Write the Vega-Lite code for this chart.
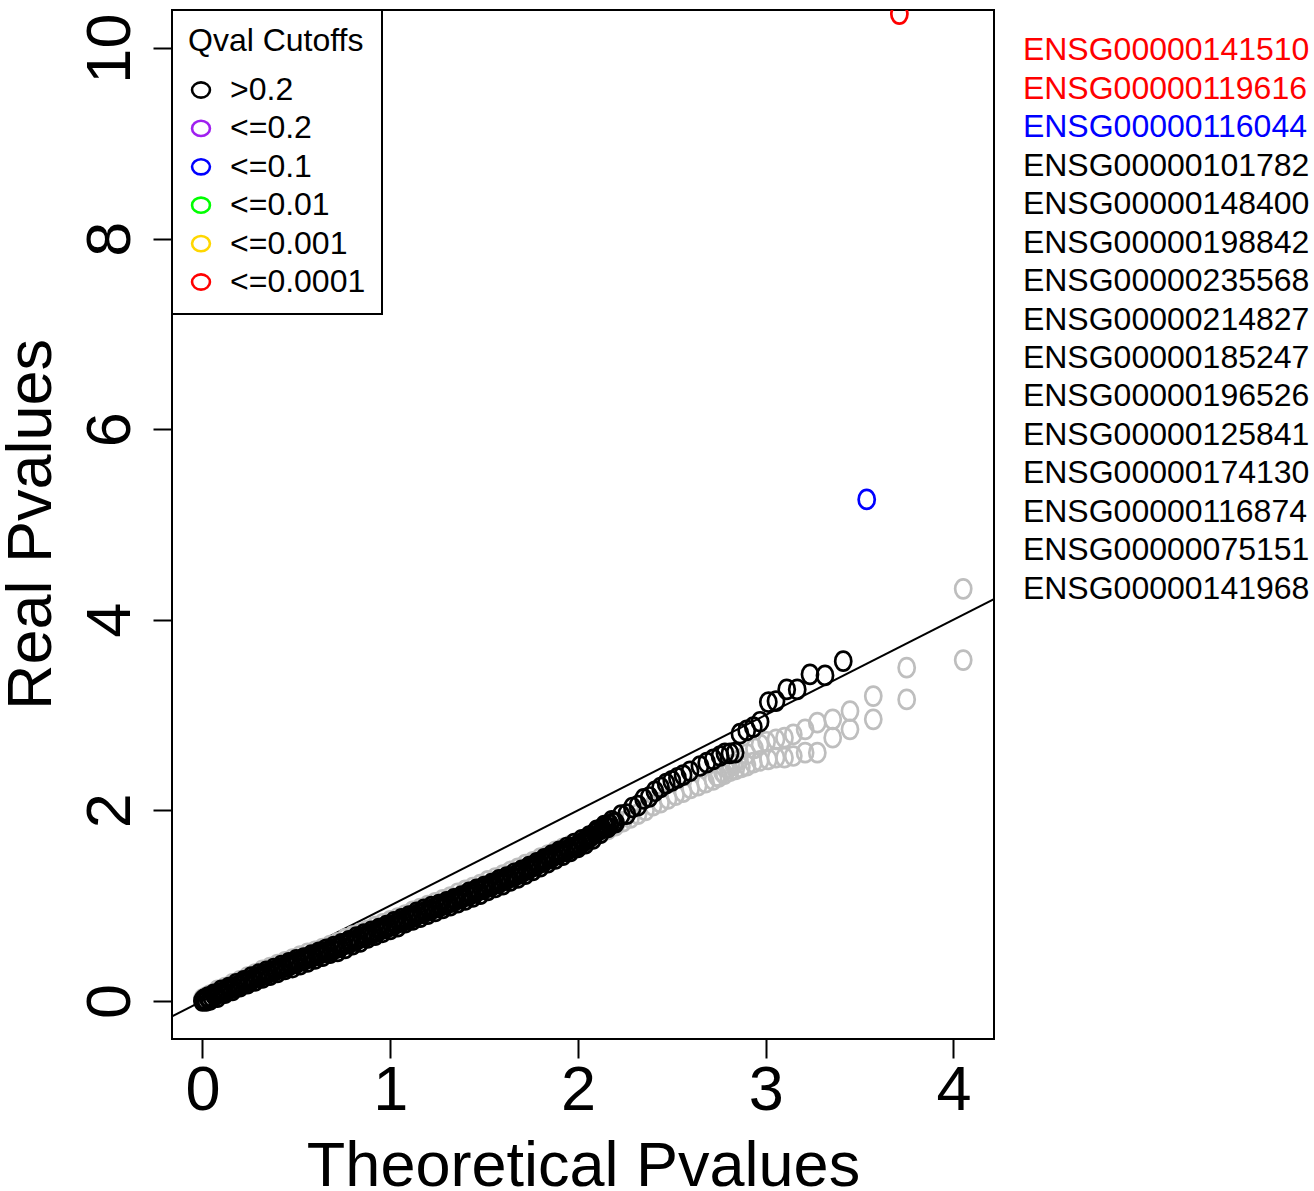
{
  "$schema": "https://vega.github.io/schema/vega-lite/v6.json",
  "width": 822,
  "height": 1029,
  "autosize": {"type": "none"},
  "padding": {"left": 172, "top": 10, "right": 320, "bottom": 152},
  "background": "white",
  "config": {
    "font": "Liberation Sans",
    "view": {"stroke": "black", "strokeWidth": 2},
    "legend": {
      "orient": "top-left", "offset": 0, "padding": 16,
      "strokeColor": "black", "strokeWidth": 2, "fillColor": "white", "cornerRadius": 0,
      "titleFontSize": 32, "titleFontWeight": "normal", "titleColor": "black", "titleLimit": 400, "titlePadding": 16,
      "labelFontSize": 32, "labelColor": "black", "labelLimit": 400, "rowPadding": 6.4,
      "symbolType": "M 0 -0.85 C 0.5523 -0.85 1 -0.4694 1 0 C 1 0.4694 0.5523 0.85 0 0.85 C -0.5523 0.85 -1 0.4694 -1 0 C -1 -0.4694 -0.5523 -0.85 0 -0.85 Z",
      "symbolSize": 320, "symbolStrokeWidth": 2.6, "symbolFillColor": "transparent", "symbolOffset": -3, "labelOffset": 13
    }
  },
  "datasets": {
    "diag": [{"x": -1, "y": -1}, {"x": 5, "y": 5}],
    "nullq": [
      {"x":0,"y":0.02},{"x":0.02,"y":0.04},{"x":0.04,"y":0.06},{"x":0.08,"y":0.11},{"x":0.12,"y":0.14},{"x":0.16,"y":0.18},{"x":0.2,"y":0.21},{"x":0.24,"y":0.25},{"x":0.28,"y":0.28},{"x":0.32,"y":0.32},{"x":0.36,"y":0.35},{"x":0.4,"y":0.38},{"x":0.44,"y":0.41},{"x":0.48,"y":0.44},{"x":0.52,"y":0.47},{"x":0.56,"y":0.5},{"x":0.6,"y":0.52},{"x":0.64,"y":0.55},{"x":0.68,"y":0.58},{"x":0.72,"y":0.61},{"x":0.76,"y":0.65},{"x":0.8,"y":0.68},{"x":0.84,"y":0.71},{"x":0.88,"y":0.74},{"x":0.92,"y":0.78},{"x":0.96,"y":0.81},{"x":1,"y":0.84},{"x":1.04,"y":0.87},{"x":1.08,"y":0.9},{"x":1.12,"y":0.94},{"x":1.16,"y":0.97},{"x":1.2,"y":1},{"x":1.24,"y":1.03},{"x":1.28,"y":1.06},{"x":1.32,"y":1.09},{"x":1.36,"y":1.13},{"x":1.4,"y":1.16},{"x":1.44,"y":1.19},{"x":1.48,"y":1.22},{"x":1.52,"y":1.26},{"x":1.56,"y":1.29},{"x":1.6,"y":1.32},{"x":1.64,"y":1.36},{"x":1.68,"y":1.39},{"x":1.72,"y":1.43},{"x":1.76,"y":1.46},{"x":1.8,"y":1.5},{"x":1.84,"y":1.53},{"x":1.88,"y":1.57},{"x":1.92,"y":1.6},{"x":1.96,"y":1.63},{"x":2,"y":1.66},{"x":2.04,"y":1.69},{"x":2.08,"y":1.73},{"x":2.12,"y":1.76},{"x":2.16,"y":1.8},{"x":2.2,"y":1.84},{"x":2.24,"y":1.88},{"x":2.28,"y":1.92},{"x":2.32,"y":1.96},{"x":2.36,"y":2},{"x":2.4,"y":2.05},{"x":2.44,"y":2.08},{"x":2.48,"y":2.12},{"x":2.52,"y":2.16},{"x":2.56,"y":2.19},{"x":2.6,"y":2.23},{"x":2.64,"y":2.26},{"x":2.68,"y":2.29},{"x":2.72,"y":2.32},
      {"x":2.75,"y":2.35},{"x":2.78,"y":2.38},{"x":2.81,"y":2.41},{"x":2.84,"y":2.43},{"x":2.87,"y":2.45},{"x":2.9,"y":2.47},{"x":2.934,"y":2.5},{"x":2.97,"y":2.52},{"x":3.014,"y":2.535},{"x":3.055,"y":2.553},{"x":3.1,"y":2.553},{"x":3.147,"y":2.57},{"x":3.21,"y":2.605},{"x":3.275,"y":2.605},{"x":3.357,"y":2.763},{"x":3.449,"y":2.85},{"x":3.573,"y":2.955},{"x":3.751,"y":3.164},{"x":4.052,"y":3.577},
      {"x":2.74,"y":2.36},{"x":2.77,"y":2.4},{"x":2.8,"y":2.44},{"x":2.83,"y":2.48},{"x":2.86,"y":2.53},{"x":2.9,"y":2.59},{"x":2.94,"y":2.65},{"x":2.97,"y":2.69},{"x":3.005,"y":2.72},{"x":3.055,"y":2.745},{"x":3.1,"y":2.763},{"x":3.147,"y":2.797},{"x":3.21,"y":2.85},{"x":3.275,"y":2.92},{"x":3.357,"y":2.955},{"x":3.449,"y":3.042},{"x":3.573,"y":3.199},{"x":3.751,"y":3.497},{"x":4.052,"y":4.325}
    ],
    "obs": [
      {"x":0,"y":0,"q":">0.2"},{"x":0.01,"y":0.02,"q":">0.2"},{"x":0.02,"y":0,"q":">0.2"},{"x":0.03,"y":0.04,"q":">0.2"},{"x":0.04,"y":0.01,"q":">0.2"},{"x":0.06,"y":0.07,"q":">0.2"},{"x":0.08,"y":0.04,"q":">0.2"},{"x":0.1,"y":0.11,"q":">0.2"},{"x":0.12,"y":0.08,"q":">0.2"},{"x":0.14,"y":0.14,"q":">0.2"},{"x":0.16,"y":0.11,"q":">0.2"},{"x":0.18,"y":0.18,"q":">0.2"},{"x":0.2,"y":0.15,"q":">0.2"},{"x":0.22,"y":0.21,"q":">0.2"},{"x":0.24,"y":0.18,"q":">0.2"},{"x":0.26,"y":0.25,"q":">0.2"},{"x":0.28,"y":0.21,"q":">0.2"},{"x":0.3,"y":0.28,"q":">0.2"},{"x":0.32,"y":0.24,"q":">0.2"},{"x":0.34,"y":0.31,"q":">0.2"},{"x":0.36,"y":0.27,"q":">0.2"},{"x":0.38,"y":0.34,"q":">0.2"},{"x":0.4,"y":0.3,"q":">0.2"},{"x":0.42,"y":0.37,"q":">0.2"},{"x":0.44,"y":0.33,"q":">0.2"},{"x":0.46,"y":0.4,"q":">0.2"},{"x":0.48,"y":0.35,"q":">0.2"},{"x":0.5,"y":0.43,"q":">0.2"},{"x":0.52,"y":0.38,"q":">0.2"},{"x":0.54,"y":0.45,"q":">0.2"},{"x":0.56,"y":0.41,"q":">0.2"},{"x":0.58,"y":0.48,"q":">0.2"},{"x":0.6,"y":0.44,"q":">0.2"},{"x":0.62,"y":0.51,"q":">0.2"},{"x":0.64,"y":0.47,"q":">0.2"},{"x":0.66,"y":0.54,"q":">0.2"},{"x":0.68,"y":0.5,"q":">0.2"},{"x":0.7,"y":0.57,"q":">0.2"},{"x":0.72,"y":0.52,"q":">0.2"},{"x":0.74,"y":0.6,"q":">0.2"},{"x":0.76,"y":0.55,"q":">0.2"},{"x":0.78,"y":0.63,"q":">0.2"},{"x":0.8,"y":0.59,"q":">0.2"},{"x":0.82,"y":0.67,"q":">0.2"},{"x":0.84,"y":0.62,"q":">0.2"},{"x":0.86,"y":0.7,"q":">0.2"},{"x":0.88,"y":0.66,"q":">0.2"},{"x":0.9,"y":0.73,"q":">0.2"},{"x":0.92,"y":0.69,"q":">0.2"},{"x":0.94,"y":0.76,"q":">0.2"},{"x":0.96,"y":0.72,"q":">0.2"},{"x":0.98,"y":0.79,"q":">0.2"},{"x":1,"y":0.75,"q":">0.2"},{"x":1.02,"y":0.83,"q":">0.2"},{"x":1.04,"y":0.78,"q":">0.2"},{"x":1.06,"y":0.86,"q":">0.2"},{"x":1.08,"y":0.82,"q":">0.2"},{"x":1.1,"y":0.89,"q":">0.2"},{"x":1.12,"y":0.85,"q":">0.2"},{"x":1.14,"y":0.93,"q":">0.2"},{"x":1.16,"y":0.88,"q":">0.2"},{"x":1.18,"y":0.96,"q":">0.2"},{"x":1.2,"y":0.91,"q":">0.2"},{"x":1.22,"y":0.99,"q":">0.2"},{"x":1.24,"y":0.94,"q":">0.2"},{"x":1.26,"y":1.01,"q":">0.2"},{"x":1.28,"y":0.97,"q":">0.2"},{"x":1.3,"y":1.04,"q":">0.2"},{"x":1.32,"y":1,"q":">0.2"},{"x":1.34,"y":1.07,"q":">0.2"},{"x":1.36,"y":1.03,"q":">0.2"},{"x":1.38,"y":1.1,"q":">0.2"},{"x":1.4,"y":1.06,"q":">0.2"},{"x":1.42,"y":1.14,"q":">0.2"},{"x":1.44,"y":1.09,"q":">0.2"},{"x":1.46,"y":1.17,"q":">0.2"},{"x":1.48,"y":1.12,"q":">0.2"},{"x":1.5,"y":1.2,"q":">0.2"},{"x":1.52,"y":1.16,"q":">0.2"},{"x":1.54,"y":1.23,"q":">0.2"},{"x":1.56,"y":1.19,"q":">0.2"},{"x":1.58,"y":1.27,"q":">0.2"},{"x":1.6,"y":1.22,"q":">0.2"},{"x":1.62,"y":1.3,"q":">0.2"},{"x":1.64,"y":1.26,"q":">0.2"},{"x":1.66,"y":1.34,"q":">0.2"},{"x":1.68,"y":1.29,"q":">0.2"},{"x":1.7,"y":1.37,"q":">0.2"},{"x":1.72,"y":1.33,"q":">0.2"},{"x":1.74,"y":1.41,"q":">0.2"},{"x":1.76,"y":1.37,"q":">0.2"},{"x":1.78,"y":1.45,"q":">0.2"},{"x":1.8,"y":1.41,"q":">0.2"},{"x":1.82,"y":1.49,"q":">0.2"},{"x":1.84,"y":1.45,"q":">0.2"},{"x":1.86,"y":1.53,"q":">0.2"},{"x":1.88,"y":1.49,"q":">0.2"},{"x":1.9,"y":1.57,"q":">0.2"},{"x":1.92,"y":1.53,"q":">0.2"},{"x":1.94,"y":1.61,"q":">0.2"},{"x":1.96,"y":1.57,"q":">0.2"},{"x":1.98,"y":1.65,"q":">0.2"},{"x":2,"y":1.61,"q":">0.2"},{"x":2.02,"y":1.69,"q":">0.2"},{"x":2.04,"y":1.65,"q":">0.2"},{"x":2.06,"y":1.73,"q":">0.2"},{"x":2.08,"y":1.7,"q":">0.2"},{"x":2.1,"y":1.79,"q":">0.2"},{"x":2.12,"y":1.76,"q":">0.2"},{"x":2.14,"y":1.84,"q":">0.2"},{"x":2.16,"y":1.82,"q":">0.2"},{"x":2.18,"y":1.89,"q":">0.2"},{"x":2.2,"y":1.87,"q":">0.2"},{"x":2.23,"y":1.95,"q":">0.2"},{"x":2.26,"y":1.96,"q":">0.2"},{"x":2.29,"y":2.03,"q":">0.2"},{"x":2.32,"y":2.05,"q":">0.2"},{"x":2.35,"y":2.12,"q":">0.2"},{"x":2.38,"y":2.14,"q":">0.2"},{"x":2.41,"y":2.2,"q":">0.2"},{"x":2.44,"y":2.24,"q":">0.2"},{"x":2.47,"y":2.28,"q":">0.2"},{"x":2.5,"y":2.31,"q":">0.2"},{"x":2.53,"y":2.34,"q":">0.2"},{"x":2.56,"y":2.37,"q":">0.2"},{"x":2.597,"y":2.41,"q":">0.2"},
      {"x":0.01,"y":0.01,"q":">0.2"},{"x":0.03,"y":0.03,"q":">0.2"},{"x":0.05,"y":0.04,"q":">0.2"},{"x":0.07,"y":0.06,"q":">0.2"},{"x":0.09,"y":0.08,"q":">0.2"},{"x":0.11,"y":0.09,"q":">0.2"},{"x":0.13,"y":0.11,"q":">0.2"},{"x":0.15,"y":0.13,"q":">0.2"},{"x":0.17,"y":0.14,"q":">0.2"},{"x":0.19,"y":0.16,"q":">0.2"},{"x":0.21,"y":0.18,"q":">0.2"},{"x":0.23,"y":0.2,"q":">0.2"},{"x":0.25,"y":0.21,"q":">0.2"},{"x":0.27,"y":0.23,"q":">0.2"},{"x":0.29,"y":0.25,"q":">0.2"},{"x":0.31,"y":0.26,"q":">0.2"},{"x":0.33,"y":0.28,"q":">0.2"},{"x":0.35,"y":0.29,"q":">0.2"},{"x":0.37,"y":0.31,"q":">0.2"},{"x":0.39,"y":0.32,"q":">0.2"},{"x":0.41,"y":0.34,"q":">0.2"},{"x":0.43,"y":0.35,"q":">0.2"},{"x":0.45,"y":0.37,"q":">0.2"},{"x":0.47,"y":0.38,"q":">0.2"},{"x":0.49,"y":0.4,"q":">0.2"},{"x":0.51,"y":0.41,"q":">0.2"},{"x":0.53,"y":0.43,"q":">0.2"},{"x":0.55,"y":0.44,"q":">0.2"},{"x":0.57,"y":0.45,"q":">0.2"},{"x":0.59,"y":0.47,"q":">0.2"},{"x":0.61,"y":0.48,"q":">0.2"},{"x":0.63,"y":0.5,"q":">0.2"},{"x":0.65,"y":0.51,"q":">0.2"},{"x":0.67,"y":0.52,"q":">0.2"},{"x":0.69,"y":0.54,"q":">0.2"},{"x":0.71,"y":0.55,"q":">0.2"},{"x":0.73,"y":0.57,"q":">0.2"},{"x":0.75,"y":0.59,"q":">0.2"},{"x":0.77,"y":0.6,"q":">0.2"},{"x":0.79,"y":0.62,"q":">0.2"},{"x":0.81,"y":0.63,"q":">0.2"},{"x":0.83,"y":0.65,"q":">0.2"},{"x":0.85,"y":0.67,"q":">0.2"},{"x":0.87,"y":0.68,"q":">0.2"},{"x":0.89,"y":0.7,"q":">0.2"},{"x":0.91,"y":0.71,"q":">0.2"},{"x":0.93,"y":0.73,"q":">0.2"},{"x":0.95,"y":0.75,"q":">0.2"},{"x":0.97,"y":0.76,"q":">0.2"},{"x":0.99,"y":0.78,"q":">0.2"},{"x":1.01,"y":0.79,"q":">0.2"},{"x":1.03,"y":0.81,"q":">0.2"},{"x":1.05,"y":0.83,"q":">0.2"},{"x":1.07,"y":0.84,"q":">0.2"},{"x":1.09,"y":0.86,"q":">0.2"},{"x":1.11,"y":0.87,"q":">0.2"},{"x":1.13,"y":0.89,"q":">0.2"},{"x":1.15,"y":0.91,"q":">0.2"},{"x":1.17,"y":0.92,"q":">0.2"},{"x":1.19,"y":0.94,"q":">0.2"},{"x":1.21,"y":0.95,"q":">0.2"},{"x":1.23,"y":0.97,"q":">0.2"},{"x":1.25,"y":0.98,"q":">0.2"},{"x":1.27,"y":1,"q":">0.2"},{"x":1.29,"y":1.01,"q":">0.2"},{"x":1.31,"y":1.03,"q":">0.2"},{"x":1.33,"y":1.04,"q":">0.2"},{"x":1.35,"y":1.06,"q":">0.2"},{"x":1.37,"y":1.08,"q":">0.2"},{"x":1.39,"y":1.09,"q":">0.2"},{"x":1.41,"y":1.11,"q":">0.2"},{"x":1.43,"y":1.12,"q":">0.2"},{"x":1.45,"y":1.14,"q":">0.2"},{"x":1.47,"y":1.16,"q":">0.2"},{"x":1.49,"y":1.17,"q":">0.2"},{"x":1.51,"y":1.19,"q":">0.2"},{"x":1.53,"y":1.2,"q":">0.2"},{"x":1.55,"y":1.22,"q":">0.2"},{"x":1.57,"y":1.24,"q":">0.2"},{"x":1.59,"y":1.25,"q":">0.2"},{"x":1.61,"y":1.27,"q":">0.2"},{"x":1.63,"y":1.29,"q":">0.2"},{"x":1.65,"y":1.3,"q":">0.2"},{"x":1.67,"y":1.32,"q":">0.2"},{"x":1.69,"y":1.34,"q":">0.2"},{"x":1.71,"y":1.36,"q":">0.2"},{"x":1.73,"y":1.38,"q":">0.2"},{"x":1.75,"y":1.4,"q":">0.2"},{"x":1.77,"y":1.42,"q":">0.2"},{"x":1.79,"y":1.44,"q":">0.2"},{"x":1.81,"y":1.46,"q":">0.2"},{"x":1.83,"y":1.48,"q":">0.2"},{"x":1.85,"y":1.5,"q":">0.2"},{"x":1.87,"y":1.52,"q":">0.2"},{"x":1.89,"y":1.54,"q":">0.2"},{"x":1.91,"y":1.56,"q":">0.2"},{"x":1.93,"y":1.57,"q":">0.2"},{"x":1.95,"y":1.59,"q":">0.2"},{"x":1.97,"y":1.61,"q":">0.2"},{"x":1.99,"y":1.62,"q":">0.2"},{"x":2.01,"y":1.64,"q":">0.2"},{"x":2.03,"y":1.67,"q":">0.2"},{"x":2.05,"y":1.7,"q":">0.2"},{"x":2.07,"y":1.73,"q":">0.2"},{"x":2.09,"y":1.76,"q":">0.2"},{"x":2.11,"y":1.79,"q":">0.2"},{"x":2.13,"y":1.81,"q":">0.2"},{"x":2.15,"y":1.83,"q":">0.2"},{"x":2.17,"y":1.85,"q":">0.2"},{"x":2.19,"y":1.87,"q":">0.2"},
      {"x":2.65,"y":2.465,"q":">0.2"},{"x":2.686,"y":2.5,"q":">0.2"},{"x":2.721,"y":2.535,"q":">0.2"},{"x":2.757,"y":2.57,"q":">0.2"},{"x":2.783,"y":2.598,"q":">0.2"},{"x":2.81,"y":2.598,"q":">0.2"},{"x":2.837,"y":2.605,"q":">0.2"},{"x":2.863,"y":2.805,"q":">0.2"},{"x":2.899,"y":2.839,"q":">0.2"},{"x":2.934,"y":2.874,"q":">0.2"},{"x":2.97,"y":2.93,"q":">0.2"},{"x":3.014,"y":3.136,"q":">0.2"},{"x":3.055,"y":3.147,"q":">0.2"},{"x":3.112,"y":3.269,"q":">0.2"},{"x":3.168,"y":3.269,"q":">0.2"},{"x":3.236,"y":3.427,"q":">0.2"},{"x":3.316,"y":3.416,"q":">0.2"},{"x":3.413,"y":3.566,"q":">0.2"},
      {"x":3.538,"y":5.263,"q":"<=0.1"},{"x":3.712,"y":10.357,"q":"<=0.0001"}
    ],
    "genes": [
      {"rank":1,"gene":"ENSG00000141510","q":"<=0.0001"},
      {"rank":2,"gene":"ENSG00000119616","q":"<=0.0001"},
      {"rank":3,"gene":"ENSG00000116044","q":"<=0.1"},
      {"rank":4,"gene":"ENSG00000101782","q":">0.2"},
      {"rank":5,"gene":"ENSG00000148400","q":">0.2"},
      {"rank":6,"gene":"ENSG00000198842","q":">0.2"},
      {"rank":7,"gene":"ENSG00000235568","q":">0.2"},
      {"rank":8,"gene":"ENSG00000214827","q":">0.2"},
      {"rank":9,"gene":"ENSG00000185247","q":">0.2"},
      {"rank":10,"gene":"ENSG00000196526","q":">0.2"},
      {"rank":11,"gene":"ENSG00000125841","q":">0.2"},
      {"rank":12,"gene":"ENSG00000174130","q":">0.2"},
      {"rank":13,"gene":"ENSG00000116874","q":">0.2"},
      {"rank":14,"gene":"ENSG00000075151","q":">0.2"},
      {"rank":15,"gene":"ENSG00000141968","q":">0.2"}
    ]
  },
  "layer": [
    {
      "layer": [
        {
          "data": {"name": "diag"},
          "mark": {"type": "line", "color": "black", "strokeWidth": 2, "clip": true},
          "encoding": {
            "x": {"field": "x", "type": "quantitative", "scale": {"domain": [-0.162, 4.216], "nice": false, "zero": false},
              "axis": {"title": "Theoretical Pvalues", "values": [0, 1, 2, 3, 4], "format": "d", "grid": false, "domain": false,
                "ticks": true, "tickSize": 19, "tickWidth": 2, "tickColor": "black",
                "labelFontSize": 63, "labelColor": "black", "labelPadding": 51, "labelBaseline": "alphabetic", "labelAlign": "center",
                "labelFlush": false, "labelOverlap": false,
                "titleFontSize": 63, "titleFontWeight": "normal", "titleColor": "black", "titleBaseline": "alphabetic", "titleAlign": "center",
                "titleX": 411, "titleY": 146}},
            "y": {"field": "y", "type": "quantitative", "scale": {"domain": [-0.4, 10.4], "nice": false, "zero": false},
              "axis": {"title": "Real Pvalues", "values": [0, 2, 4, 6, 8, 10], "format": "d", "grid": false, "domain": false,
                "ticks": true, "tickSize": 19, "tickWidth": 2, "tickColor": "black",
                "labelFontSize": 63, "labelColor": "black", "labelAngle": 270, "labelAlign": "center", "labelBaseline": "alphabetic", "labelPadding": 24,
                "labelFlush": false, "labelOverlap": false,
                "titleFontSize": 63, "titleFontWeight": "normal", "titleColor": "black", "titleAngle": 270, "titleBaseline": "alphabetic", "titleAlign": "center",
                "titleX": -122, "titleY": 514}}
          }
        },
        {
          "data": {"name": "nullq"},
          "mark": {"type": "point", "shape": "M 0 -1 C 0.4694 -1 0.85 -0.5523 0.85 0 C 0.85 0.5523 0.4694 1 0 1 C -0.4694 1 -0.85 0.5523 -0.85 0 C -0.85 -0.5523 -0.4694 -1 0 -1 Z", "filled": false, "size": 360, "strokeWidth": 2.7, "color": "#BEBEBE", "opacity": 1, "clip": true},
          "encoding": {
            "x": {"field": "x", "type": "quantitative"},
            "y": {"field": "y", "type": "quantitative"}
          }
        },
        {
          "data": {"name": "obs"},
          "mark": {"type": "point", "shape": "M 0 -1 C 0.4694 -1 0.85 -0.5523 0.85 0 C 0.85 0.5523 0.4694 1 0 1 C -0.4694 1 -0.85 0.5523 -0.85 0 C -0.85 -0.5523 -0.4694 -1 0 -1 Z", "filled": false, "size": 360, "strokeWidth": 2.7, "opacity": 1, "clip": true},
          "encoding": {
            "x": {"field": "x", "type": "quantitative"},
            "y": {"field": "y", "type": "quantitative"},
            "color": {"field": "q", "type": "nominal",
              "scale": {"domain": [">0.2", "<=0.2", "<=0.1", "<=0.01", "<=0.001", "<=0.0001"], "range": ["#000000", "#A020F0", "#0000FF", "#00FF00", "#FFD700", "#FF0000"]},
              "legend": {"title": "Qval Cutoffs"}}
          }
        }
      ]
    },
    {
      "data": {"name": "genes"},
      "mark": {"type": "text", "align": "left", "baseline": "alphabetic", "fontSize": 32},
      "encoding": {
        "x": {"datum": 4.37, "type": "quantitative"},
        "y": {"field": "rank", "type": "quantitative", "scale": {"domain": [-0.314, 26.462], "reverse": true, "nice": false, "zero": false}, "axis": null},
        "text": {"field": "gene"},
        "color": {"field": "q", "type": "nominal",
          "scale": {"domain": [">0.2", "<=0.2", "<=0.1", "<=0.01", "<=0.001", "<=0.0001"], "range": ["#000000", "#A020F0", "#0000FF", "#00FF00", "#FFD700", "#FF0000"]},
          "legend": null}
      }
    }
  ],
  "resolve": {"scale": {"y": "independent", "color": "independent"}, "legend": {"color": "independent"}}
}
